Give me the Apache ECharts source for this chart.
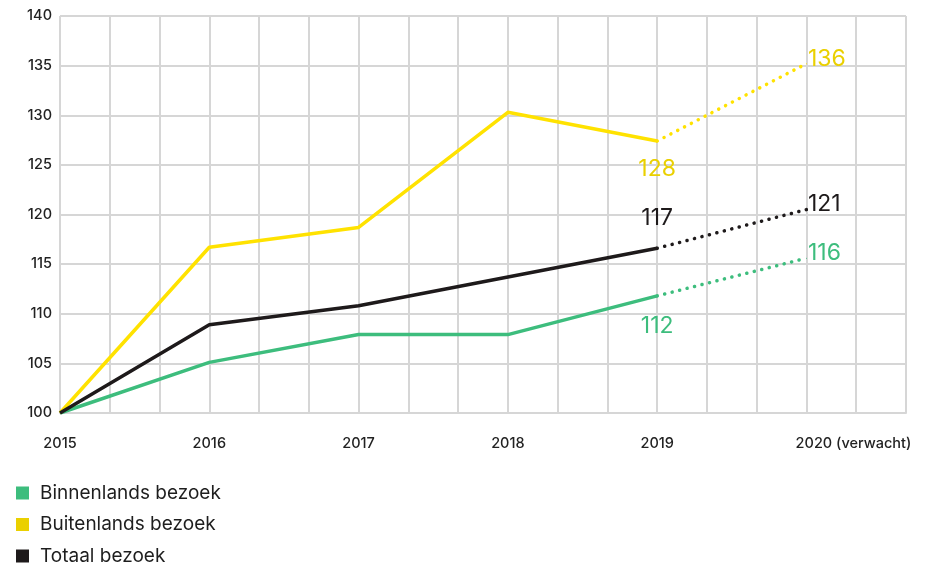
<!DOCTYPE html>
<html>
<head>
<meta charset="utf-8">
<script src="https://cdn.jsdelivr.net/npm/echarts@6/dist/echarts.min.js"></script>
<style>
  html, body { margin: 0; padding: 0; background: #fff; }
  #chart { width: 934px; height: 566px; }
</style>
</head>
<body>
<div id="chart"></div>
<script>
// jaren, index 1 per jaar (as loopt in derden van een jaar)
const years = ['2015', '2016', '2017', '2018', '2019', '2020']
const binnenlands = [100, 105.1, 107.9, 107.9, 111.8, 115.6]
const buitenlands = [100, 116.7, 118.7, 130.3, 127.4, 135.2]
const totaal = [100, 108.9, 110.8, 113.7, 116.6, 120.5]
// getoonde labels bij 2019 en 2020
const binnenlandsLabels = ['112', '116']
const buitenlandsLabels = ['128', '136']
const totaalLabels = ['117', '121']
const yTicks = [100, 105, 110, 115, 120, 125, 130, 135, 140]

const GREEN = '#3dbd7d'
const YELLOW = '#ffe200'
const YELLOW_TXT = '#ead000'
const BLACK = '#1e1a1b'
const STEP = 3 // gridlijnen per jaar
const FONT = 'Inter, "Noto Sans", sans-serif'

const chart = echarts.init(document.getElementById('chart'))

function solidData(values) {
  return values.slice(0, 5).map((v, i) => [i * STEP, v])
}

// pos2019: positie van label bij 2019, 2020 staat altijd rechts
function forecastData(values, labels, color, pos2019, off2019) {
  return [4, 5].map((i, k) => ({
    value: [i * STEP, values[i]],
    label: {
      show: true,
      formatter: labels[k],
      color: color,
      fontSize: 23,
      fontFamily: FONT,
      position: k === 0 ? pos2019 : 'right',
      distance: k === 0 ? off2019 : 1,
      offset: k === 0 ? [0, 0] : [0, -5],
    },
  }))
}

function solidSeries(name, values, color, iconColor) {
  return {
    name,
    type: 'line',
    data: solidData(values),
    symbol: 'none',
    lineStyle: { color, width: 3.5, join: 'round' },
    itemStyle: { color: iconColor || color },
    z: 3,
  }
}

function forecastSeries(name, values, labels, color, txtColor, pos, off) {
  return {
    name: name + ' prognose',
    type: 'line',
    data: forecastData(values, labels, txtColor, pos, off),
    symbol: 'circle',
    symbolSize: 1,
    lineStyle: { color, width: 3.5, type: [0.1, 7.6], cap: 'round' },
    itemStyle: { color },
    z: 3,
  }
}

chart.setOption({
  animation: false,
  backgroundColor: '#fff',
  textStyle: { fontFamily: FONT },
  grid: { left: 60, right: 28, top: 16, bottom: 153 },
  legend: {
    data: ['Binnenlands bezoek', 'Buitenlands bezoek', 'Totaal bezoek'],
    orient: 'vertical',
    left: 11,
    top: 478,
    height: 90,
    icon: 'rect',
    itemWidth: 13,
    itemHeight: 13,
    itemGap: 11.5,
    textStyle: { fontSize: 19, lineHeight: 20, padding: [0, 0, 0, 6], color: '#1e1e1e', fontFamily: FONT },
  },
  xAxis: {
    type: 'value',
    min: 0,
    max: 17,
    interval: 1,
    axisLine: { show: true, lineStyle: { color: '#d6d6d6', width: 2 } },
    axisTick: { show: false },
    splitLine: { show: true, lineStyle: { color: '#d6d6d6', width: 2 } },
    axisLabel: {
      margin: 23,
      color: '#222',
      fontSize: 14.5,
      fontWeight: 500,
      fontFamily: FONT,
      showMaxLabel: false,
      formatter: (v) => {
        if (v % STEP !== 0) return ''
        const i = v / STEP
        if (i === years.length - 1) return '{last|' + years[i] + ' (verwacht)}'
        return years[i]
      },
      rich: {
        last: { fontSize: 14.5, fontWeight: 500, color: '#222', fontFamily: FONT, padding: [0, 0, 0, 94] },
      },
    },
  },
  yAxis: {
    type: 'value',
    min: yTicks[0],
    max: yTicks[yTicks.length - 1],
    interval: 5,
    axisLine: { show: false },
    axisTick: { show: false },
    splitLine: { show: true, lineStyle: { color: '#d6d6d6', width: 2 } },
    axisLabel: { margin: 8, color: '#222', fontSize: 14.5, fontWeight: 500, fontFamily: FONT },
  },
  series: [
    solidSeries('Binnenlands bezoek', binnenlands, GREEN),
    solidSeries('Buitenlands bezoek', buitenlands, YELLOW, '#ead000'),
    solidSeries('Totaal bezoek', totaal, BLACK),
    forecastSeries('Binnenlands bezoek', binnenlands, binnenlandsLabels, GREEN, GREEN, 'bottom', 18),
    forecastSeries('Buitenlands bezoek', buitenlands, buitenlandsLabels, YELLOW, YELLOW_TXT, 'bottom', 16),
    forecastSeries('Totaal bezoek', totaal, totaalLabels, BLACK, BLACK, 'top', 18),
  ],
})
</script>
</body>
</html>
